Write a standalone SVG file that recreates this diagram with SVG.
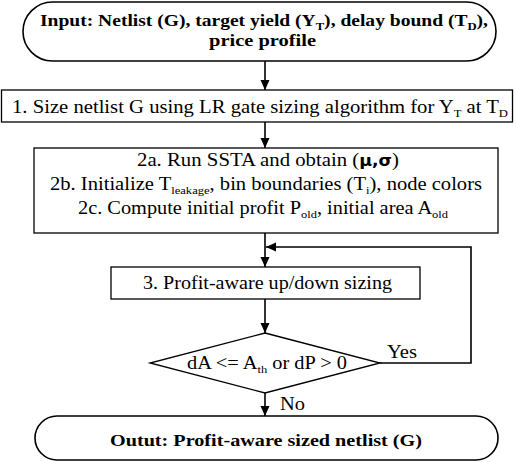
<svg xmlns="http://www.w3.org/2000/svg" width="516" height="462" viewBox="0 0 516 462">
<style>
.box{fill:#fff;stroke:#000;stroke-width:1.3}
.term{fill:#fff;stroke:#000;stroke-width:1.6}
.ln{fill:none;stroke:#000;stroke-width:1.6}
.b{font-weight:bold;font-size:17px}
.r{font-size:18px}
.sub{font-size:11px}
</style>
<defs>
<marker id="ah" viewBox="0 0 10 10" refX="10" refY="5" markerWidth="10" markerHeight="10" markerUnits="userSpaceOnUse" orient="auto">
<path d="M0,0.5 L10,5 L0,9.5 Z" fill="#000"/>
</marker>
</defs>
<rect width="516" height="462" fill="#fff"/>
<g id="connectors">
<line class="ln" x1="265" y1="61" x2="265" y2="90" marker-end="url(#ah)"/>
<line class="ln" x1="265" y1="122" x2="265" y2="148" marker-end="url(#ah)"/>
<line class="ln" x1="265" y1="233" x2="265" y2="267" marker-end="url(#ah)"/>
<line class="ln" x1="265" y1="299" x2="265" y2="333" marker-end="url(#ah)"/>
<polyline class="ln" points="380,363 471,363 471,247 266,247" marker-end="url(#ah)"/>
<line class="ln" x1="265" y1="393" x2="265" y2="416" marker-end="url(#ah)"/>
<text font-family="Liberation Serif" class="r" x="387" y="358" textLength="30" lengthAdjust="spacingAndGlyphs">Yes</text>
<text font-family="Liberation Serif" class="r" x="280" y="410" textLength="25" lengthAdjust="spacingAndGlyphs">No</text>
</g>
<g id="input">
<rect class="term" x="23" y="2" width="473" height="59" rx="29.5" ry="29.5"/>
<text font-family="Liberation Serif" class="b" x="40" y="26" textLength="448" lengthAdjust="spacingAndGlyphs">Input: Netlist (G), target yield (Y<tspan class="sub" dy="4">T</tspan><tspan dy="-4">), delay bound (T</tspan><tspan class="sub" dy="4">D</tspan><tspan dy="-4">),</tspan></text>
<text font-family="Liberation Serif" class="b" x="209" y="46" textLength="107" lengthAdjust="spacingAndGlyphs">price profile</text>
</g>
<g id="step1">
<rect class="box" x="1.5" y="90" width="511" height="32"/>
<text font-family="Liberation Serif" class="r" x="12" y="113" textLength="496" lengthAdjust="spacingAndGlyphs">1. Size netlist G using LR gate sizing algorithm for Y<tspan class="sub" dy="4">T</tspan><tspan dy="-4"> at T</tspan><tspan class="sub" dy="4">D</tspan></text>
</g>
<g id="step2">
<rect class="box" x="34" y="148" width="464" height="85"/>
<text font-family="Liberation Serif" class="r" x="137" y="166" textLength="262" lengthAdjust="spacingAndGlyphs">2a. Run SSTA and obtain (<tspan font-weight="bold" font-family="DejaVu Sans" font-size="15">μ,σ</tspan>)</text>
<text font-family="Liberation Serif" class="r" x="50" y="190" textLength="432" lengthAdjust="spacingAndGlyphs">2b. Initialize T<tspan class="sub" dy="4">leakage</tspan><tspan dy="-4">, bin boundaries (T</tspan><tspan class="sub" dy="4">i</tspan><tspan dy="-4">), node colors</tspan></text>
<text font-family="Liberation Serif" class="r" x="78" y="214" textLength="370" lengthAdjust="spacingAndGlyphs">2c. Compute initial profit P<tspan class="sub" dy="4">old</tspan><tspan dy="-4">, initial area A</tspan><tspan class="sub" dy="4">old</tspan></text>
</g>
<g id="step3">
<rect class="box" x="111" y="267" width="309" height="32"/>
<text font-family="Liberation Serif" class="r" x="143" y="289" textLength="249" lengthAdjust="spacingAndGlyphs">3. Profit-aware up/down sizing</text>
</g>
<g id="decision">
<polygon class="box" points="265,333 380,363 265,393 150,363"/>
<text font-family="Liberation Serif" class="r" x="187" y="369" textLength="160" lengthAdjust="spacingAndGlyphs">dA &lt;= A<tspan class="sub" dy="4">th</tspan><tspan dy="-4"> or dP &gt; 0</tspan></text>
</g>
<g id="output">
<rect class="term" x="35" y="416" width="463" height="44" rx="22" ry="22"/>
<text font-family="Liberation Serif" class="b" x="110" y="446" textLength="312" lengthAdjust="spacingAndGlyphs">Outut: Profit-aware sized netlist (G)</text>
</g>
</svg>
